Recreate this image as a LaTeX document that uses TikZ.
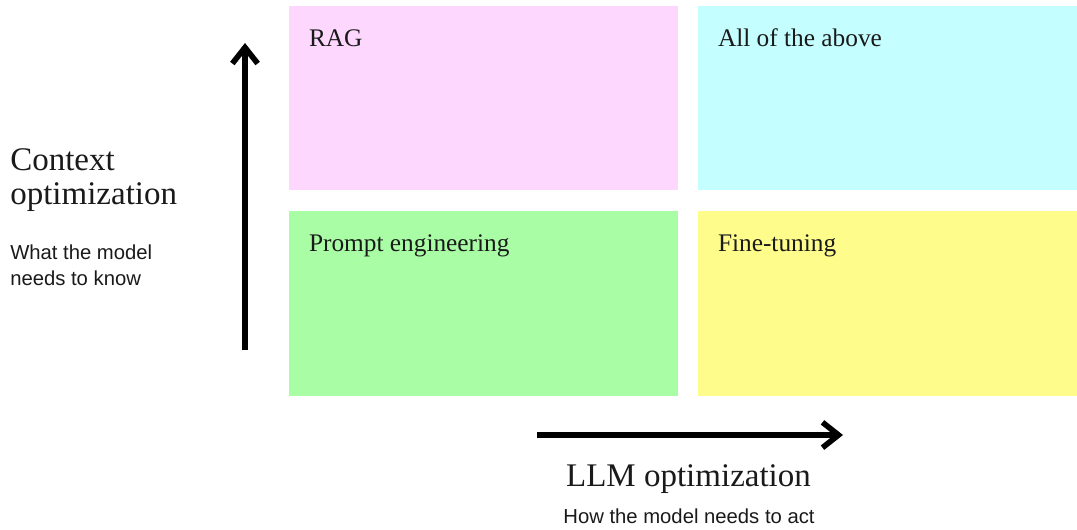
\documentclass[tikz,border=0pt]{standalone}
\usepackage{fontspec}
\setmainfont{Liberation Serif}
\newfontfamily\notesans{Liberation Sans}
\usetikzlibrary{arrows.meta}

\definecolor{ragpink}{HTML}{FDD7FD}
\definecolor{allcyan}{HTML}{C5FEFE}
\definecolor{promptgreen}{HTML}{A9FEA5}
\definecolor{fineyellow}{HTML}{FEFD8C}
\definecolor{ink}{HTML}{1A1A1A}

\begin{document}
\begin{tikzpicture}[x=0.75pt, y=-0.75pt,
  quad/.style={rectangle, inner sep=0pt, minimum height=138.4pt},
  quadlabel/.style={anchor=base west, inner sep=0pt, text=ink,
    font=\fontsize{19}{22}\selectfont},
  axistitle/.style={inner sep=0pt, text=ink, align=left,
    font=\fontsize{24.75}{25.5}\selectfont},
  axisnote/.style={inner sep=0pt, text=ink, align=left,
    font=\notesans\fontsize{15.2}{19.5}\selectfont},
  axis/.style={line width=4.2pt, draw=black,
    -{Straight Barb[length=12pt, width=19pt]}}]

  \useasboundingbox (0,0) rectangle (1077,529);

  % Quadrants
  \node[quad, fill=ragpink, minimum width=291.75pt] (rag) at (483.5, 98) {};
  \node[quad, fill=allcyan, minimum width=284.25pt] (all) at (887.5, 98) {};
  \node[quad, fill=promptgreen, minimum width=291.75pt] (prompt) at (483.5, 303.5) {};
  \node[quad, fill=fineyellow, minimum width=284.25pt] (fine) at (887.5, 303.5) {};

  % Quadrant labels
  \node[quadlabel] (raglabel) at ([shift={(20,41)}]rag.north west) {RAG};
  \node[quadlabel] (alllabel) at ([shift={(20,41)}]all.north west) {All of the above};
  \node[quadlabel] (promptlabel) at ([shift={(20,41)}]prompt.north west) {Prompt engineering};
  \node[quadlabel] (finelabel) at ([shift={(20,41)}]fine.north west) {Fine-tuning};

  % Vertical axis
  \coordinate (ctxfoot) at (245, 350);
  \coordinate (ctxhead) at (245, 43);
  \draw[axis] (ctxfoot) -- (ctxhead);
  \node[axistitle, anchor=base west] (ctxtitle) at (10, 204) {Context\\optimization};
  \node[axisnote, anchor=base west] (ctxnote) at (10, 285) {What the model\\needs to know};

  % Horizontal axis
  \coordinate (llmfoot) at (537, 435);
  \coordinate (llmhead) at (843, 435);
  \draw[axis] (llmfoot) -- (llmhead);
  \node[axistitle, anchor=base] (llmtitle) at (688.5, 486) {LLM optimization};
  \node[axisnote, anchor=base] (llmnote) at (689, 523) {How the model needs to act};
\end{tikzpicture}
\end{document}
